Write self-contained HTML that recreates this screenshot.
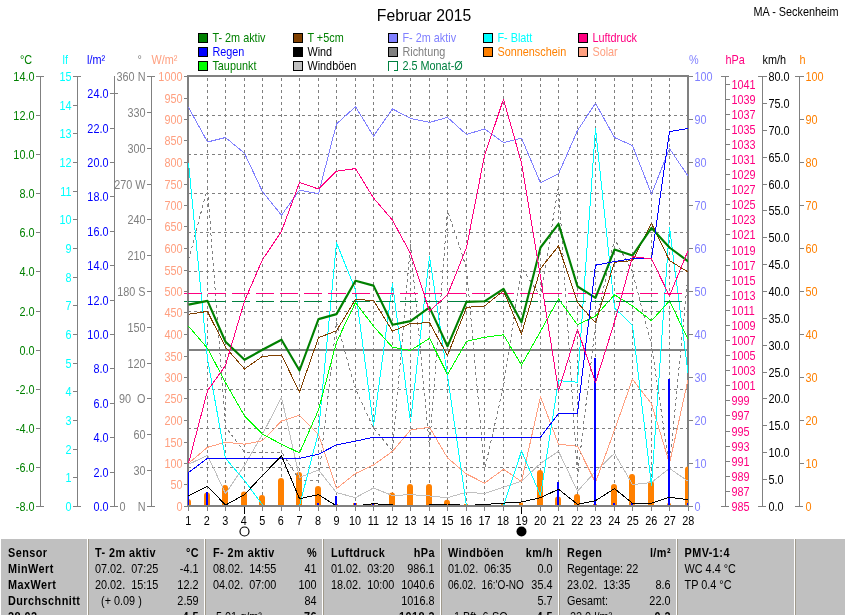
<!DOCTYPE html>
<html><head><meta charset="utf-8"><title>Februar 2015</title>
<style>html,body{margin:0;padding:0;background:#fff}svg{display:block;will-change:transform}text{font-family:"Liberation Sans", sans-serif;font-size:12px}</style>
</head><body>
<svg width="845" height="615" viewBox="0 0 845 615">
<rect x="0" y="0" width="845" height="615" fill="#fff"/>
<text transform="translate(424.00 21.00) scale(0.925 1)" fill="#000" text-anchor="middle" style="font-size:17px">Februar 2015</text>
<text transform="translate(838.50 16.00) scale(0.905 1)" fill="#000" text-anchor="end">MA - Seckenheim</text>
<rect x="198.5" y="33.5" width="9" height="9" fill="#008000" stroke="#000" stroke-width="1" shape-rendering="crispEdges"/>
<text transform="translate(212.40 42.00) scale(0.905 1)" fill="#008000">T- 2m aktiv</text>
<rect x="198.5" y="47.5" width="9" height="9" fill="#0000ff" stroke="#000" stroke-width="1" shape-rendering="crispEdges"/>
<text transform="translate(212.40 56.00) scale(0.905 1)" fill="#0000ff">Regen</text>
<rect x="198.5" y="61.5" width="9" height="9" fill="#00ff00" stroke="#000" stroke-width="1" shape-rendering="crispEdges"/>
<text transform="translate(212.40 70.00) scale(0.905 1)" fill="#008000">Taupunkt</text>
<rect x="293.5" y="33.5" width="9" height="9" fill="#804000" stroke="#000" stroke-width="1" shape-rendering="crispEdges"/>
<text transform="translate(307.40 42.00) scale(0.905 1)" fill="#008000">T +5cm</text>
<rect x="293.5" y="47.5" width="9" height="9" fill="#000000" stroke="#000" stroke-width="1" shape-rendering="crispEdges"/>
<text transform="translate(307.40 56.00) scale(0.905 1)" fill="#000000">Wind</text>
<rect x="293.5" y="61.5" width="9" height="9" fill="#c0c0c0" stroke="#000" stroke-width="1" shape-rendering="crispEdges"/>
<text transform="translate(307.40 70.00) scale(0.905 1)" fill="#000000">Windböen</text>
<rect x="388.5" y="33.5" width="9" height="9" fill="#8080ff" stroke="#000" stroke-width="1" shape-rendering="crispEdges"/>
<text transform="translate(402.40 42.00) scale(0.905 1)" fill="#8080ff">F- 2m aktiv</text>
<rect x="388.5" y="47.5" width="9" height="9" fill="#808080" stroke="#000" stroke-width="1" shape-rendering="crispEdges"/>
<text transform="translate(402.40 56.00) scale(0.905 1)" fill="#808080">Richtung</text>
<path d="M388.5 71.0V61.5H397.5V70.5H394.0" fill="none" stroke="#008040" stroke-width="1" shape-rendering="crispEdges"/>
<text transform="translate(402.40 70.00) scale(0.905 1)" fill="#008040">2.5 Monat-Ø</text>
<rect x="483.5" y="33.5" width="9" height="9" fill="#00ffff" stroke="#000" stroke-width="1" shape-rendering="crispEdges"/>
<text transform="translate(497.40 42.00) scale(0.905 1)" fill="#00ffff">F- Blatt</text>
<rect x="483.5" y="47.5" width="9" height="9" fill="#ff8000" stroke="#000" stroke-width="1" shape-rendering="crispEdges"/>
<text transform="translate(497.40 56.00) scale(0.905 1)" fill="#ff8000">Sonnenschein</text>
<rect x="578.5" y="33.5" width="9" height="9" fill="#ff0080" stroke="#000" stroke-width="1" shape-rendering="crispEdges"/>
<text transform="translate(592.40 42.00) scale(0.905 1)" fill="#ff0080">Luftdruck</text>
<rect x="578.5" y="47.5" width="9" height="9" fill="#ffa080" stroke="#000" stroke-width="1" shape-rendering="crispEdges"/>
<text transform="translate(592.40 56.00) scale(0.905 1)" fill="#ffa080">Solar</text>
<defs><clipPath id="pc"><rect x="188" y="70" width="500" height="437"/></clipPath></defs>
<g stroke="#808080" stroke-width="1" stroke-dasharray="3 3" shape-rendering="crispEdges" fill="none">
<line x1="207.5" y1="78" x2="207.5" y2="505"/>
<line x1="225.5" y1="78" x2="225.5" y2="505"/>
<line x1="244.5" y1="78" x2="244.5" y2="505"/>
<line x1="262.5" y1="78" x2="262.5" y2="505"/>
<line x1="281.5" y1="78" x2="281.5" y2="505"/>
<line x1="299.5" y1="78" x2="299.5" y2="505"/>
<line x1="318.5" y1="78" x2="318.5" y2="505"/>
<line x1="336.5" y1="78" x2="336.5" y2="505"/>
<line x1="355.5" y1="78" x2="355.5" y2="505"/>
<line x1="373.5" y1="78" x2="373.5" y2="505"/>
<line x1="392.5" y1="78" x2="392.5" y2="505"/>
<line x1="410.5" y1="78" x2="410.5" y2="505"/>
<line x1="429.5" y1="78" x2="429.5" y2="505"/>
<line x1="447.5" y1="78" x2="447.5" y2="505"/>
<line x1="466.5" y1="78" x2="466.5" y2="505"/>
<line x1="484.5" y1="78" x2="484.5" y2="505"/>
<line x1="503.5" y1="78" x2="503.5" y2="505"/>
<line x1="521.5" y1="78" x2="521.5" y2="505"/>
<line x1="540.5" y1="78" x2="540.5" y2="505"/>
<line x1="558.5" y1="78" x2="558.5" y2="505"/>
<line x1="577.5" y1="78" x2="577.5" y2="505"/>
<line x1="595.5" y1="78" x2="595.5" y2="505"/>
<line x1="614.5" y1="78" x2="614.5" y2="505"/>
<line x1="632.5" y1="78" x2="632.5" y2="505"/>
<line x1="651.5" y1="78" x2="651.5" y2="505"/>
<line x1="669.5" y1="78" x2="669.5" y2="505"/>
<line x1="188" y1="115.5" x2="687" y2="115.5"/>
<line x1="188" y1="154.5" x2="687" y2="154.5"/>
<line x1="188" y1="193.5" x2="687" y2="193.5"/>
<line x1="188" y1="232.5" x2="687" y2="232.5"/>
<line x1="188" y1="271.5" x2="687" y2="271.5"/>
<line x1="188" y1="311.5" x2="687" y2="311.5"/>
<line x1="188" y1="350.5" x2="687" y2="350.5"/>
<line x1="188" y1="389.5" x2="687" y2="389.5"/>
<line x1="188" y1="428.5" x2="687" y2="428.5"/>
<line x1="188" y1="467.5" x2="687" y2="467.5"/>
</g>
<rect x="188" y="76" width="500" height="430" fill="none" stroke="#808080" stroke-width="2" shape-rendering="crispEdges"/>
<g clip-path="url(#pc)">
<g stroke="#ff8000" stroke-width="6" stroke-linecap="round" fill="none">
<line x1="188.0" y1="509.0" x2="188.0" y2="502.0"/>
<line x1="207.0" y1="509.0" x2="207.0" y2="495.5"/>
<line x1="225.0" y1="509.0" x2="225.0" y2="488.0"/>
<line x1="244.0" y1="509.0" x2="244.0" y2="494.5"/>
<line x1="262.0" y1="509.0" x2="262.0" y2="498.0"/>
<line x1="281.0" y1="509.0" x2="281.0" y2="481.0"/>
<line x1="299.0" y1="509.0" x2="299.0" y2="475.0"/>
<line x1="318.0" y1="509.0" x2="318.0" y2="489.0"/>
<rect x="334.0" y="504.0" width="4" height="2.0" fill="#ff8000" stroke="none"/>
<rect x="353.0" y="503.0" width="4" height="3.0" fill="#ff8000" stroke="none"/>
<rect x="371.0" y="504.0" width="4" height="2.0" fill="#ff8000" stroke="none"/>
<line x1="392.0" y1="509.0" x2="392.0" y2="495.6"/>
<line x1="410.0" y1="509.0" x2="410.0" y2="487.0"/>
<line x1="429.0" y1="509.0" x2="429.0" y2="487.0"/>
<line x1="447.0" y1="509.0" x2="447.0" y2="502.7"/>
<rect x="464.0" y="504.0" width="4" height="2.0" fill="#ff8000" stroke="none"/>
<rect x="482.0" y="504.0" width="4" height="2.0" fill="#ff8000" stroke="none"/>
<rect x="501.0" y="504.0" width="4" height="2.0" fill="#ff8000" stroke="none"/>
<rect x="519.0" y="502.6" width="4" height="3.4" fill="#ff8000" stroke="none"/>
<line x1="540.0" y1="509.0" x2="540.0" y2="473.0"/>
<line x1="558.0" y1="509.0" x2="558.0" y2="499.5"/>
<line x1="577.0" y1="509.0" x2="577.0" y2="497.0"/>
<rect x="593.0" y="504.0" width="4" height="2.0" fill="#ff8000" stroke="none"/>
<line x1="614.0" y1="509.0" x2="614.0" y2="487.0"/>
<line x1="632.0" y1="509.0" x2="632.0" y2="477.0"/>
<line x1="651.0" y1="509.0" x2="651.0" y2="484.0"/>
<rect x="667.0" y="503.5" width="4" height="2.5" fill="#ff8000" stroke="none"/>
<line x1="688.0" y1="509.0" x2="688.0" y2="469.4"/>
</g>
<line x1="188" y1="350" x2="688" y2="350" stroke="#808080" stroke-width="2" shape-rendering="crispEdges"/>
<polyline points="188.5,260.0 207.5,188.0 225.5,427.0 244.5,452.0 262.5,452.0 281.5,452.0 299.5,480.0 318.5,480.0 336.5,322.0 355.5,389.0 373.5,428.0 392.5,451.0 410.5,245.0 429.5,447.0 447.5,210.5 466.5,268.0 484.5,470.0 503.5,386.0 521.5,268.0 540.5,296.0 558.5,186.0 577.5,476.0 595.5,325.0 614.5,239.0 632.5,272.0 651.5,345.0 669.5,467.0 688.5,270.0" fill="none" stroke="#808080" stroke-width="1" stroke-linejoin="round" stroke-dasharray="3 3" shape-rendering="crispEdges"/>
<polyline points="188.5,464.4 207.5,455.3 225.5,493.6 244.5,465.4 262.5,434.2 281.5,397.3 299.5,477.5 318.5,470.0 336.5,492.6 355.5,497.7 373.5,488.0 392.5,495.6 410.5,494.6 429.5,496.0 447.5,497.7 466.5,492.2 484.5,493.6 503.5,487.2 521.5,481.1 540.5,463.4 558.5,451.3 577.5,491.2 595.5,471.5 614.5,453.3 632.5,484.6 651.5,482.5 669.5,468.4 688.5,481.5" fill="none" stroke="#c0c0c0" stroke-width="1" stroke-linejoin="round" shape-rendering="crispEdges"/>
<polyline points="188.5,463.4 207.5,447.3 225.5,442.2 244.5,444.2 262.5,440.8 281.5,421.0 299.5,415.3 318.5,434.2 336.5,488.6 355.5,473.5 373.5,465.0 392.5,451.3 410.5,430.1 429.5,427.1 447.5,457.9 466.5,474.0 484.5,483.1 503.5,469.4 521.5,481.5 540.5,396.7 558.5,444.2 577.5,446.3 595.5,482.5 614.5,430.0 632.5,379.2 651.5,403.8 669.5,463.4 688.5,377.6" fill="none" stroke="#ffa080" stroke-width="1" stroke-linejoin="round" shape-rendering="crispEdges"/>
<polyline points="188.5,107.3 207.5,142.0 225.5,137.5 244.5,153.3 262.5,191.7 281.5,215.2 299.5,190.3 318.5,193.6 336.5,124.0 355.5,106.7 373.5,136.1 392.5,108.9 410.5,118.4 429.5,122.4 447.5,117.4 466.5,134.5 484.5,128.9 503.5,142.6 521.5,138.1 540.5,182.9 558.5,173.8 577.5,130.5 595.5,103.3 614.5,137.5 632.5,145.6 651.5,194.0 669.5,148.6 688.5,176.8" fill="none" stroke="#8080ff" stroke-width="1" stroke-linejoin="round" shape-rendering="crispEdges"/>
<polyline points="188.5,162.7 207.5,359.0 225.5,458.3 244.5,480.5 262.5,505.0 281.5,506.0 299.5,506.0 318.5,432.0 336.5,242.8 355.5,290.0 373.5,426.0 392.5,283.7 410.5,422.0 429.5,256.5 447.5,376.0 466.5,506.0 484.5,506.0 503.5,506.0 521.5,450.9 540.5,495.6 558.5,380.6 577.5,382.2 595.5,128.5 614.5,308.0 632.5,325.2 651.5,485.6 669.5,227.3 688.5,376.6" fill="none" stroke="#00ffff" stroke-width="1" stroke-linejoin="round" shape-rendering="crispEdges"/>
<polyline points="188.5,326.2 207.5,348.3 225.5,382.6 244.5,415.8 262.5,434.2 281.5,444.2 299.5,452.9 318.5,410.0 336.5,342.0 355.5,302.5 373.5,326.2 392.5,347.3 410.5,350.4 429.5,338.3 447.5,374.6 466.5,341.3 484.5,337.3 503.5,334.8 521.5,365.0 540.5,331.3 558.5,298.9 577.5,324.8 595.5,316.1 614.5,294.8 632.5,306.0 651.5,320.7 669.5,300.9 688.5,340.3" fill="none" stroke="#00ff00" stroke-width="1" stroke-linejoin="round" shape-rendering="crispEdges"/>
<line x1="184" y1="293.5" x2="688" y2="293.5" stroke="#ff0080" stroke-width="1" stroke-dasharray="18 6" shape-rendering="crispEdges"/>
<line x1="184" y1="301.5" x2="688" y2="301.5" stroke="#008040" stroke-width="1" stroke-dasharray="18 6" shape-rendering="crispEdges"/>
<polyline points="188.5,314.3 207.5,311.4 225.5,347.3 244.5,369.0 262.5,356.4 281.5,355.0 299.5,392.0 318.5,337.7 336.5,330.8 355.5,299.5 373.5,300.5 392.5,331.2 410.5,323.5 429.5,322.7 447.5,355.4 466.5,307.3 484.5,306.0 503.5,290.8 521.5,334.0 540.5,268.6 558.5,246.0 577.5,302.6 595.5,322.8 614.5,262.2 632.5,260.6 651.5,223.3 669.5,260.6 688.5,272.3" fill="none" stroke="#804000" stroke-width="1" stroke-linejoin="round" shape-rendering="crispEdges"/>
<polyline points="188.5,304.6 207.5,300.9 225.5,341.7 244.5,359.8 262.5,349.8 281.5,339.7 299.5,370.5 318.5,319.1 336.5,314.1 355.5,280.7 373.5,285.6 392.5,324.8 410.5,321.1 429.5,307.4 447.5,346.3 466.5,301.9 484.5,301.3 503.5,288.8 521.5,322.3 540.5,247.5 558.5,223.9 577.5,286.5 595.5,297.8 614.5,249.5 632.5,255.5 651.5,227.9 669.5,247.5 688.5,261.6" fill="none" stroke="#008000" stroke-width="2.15" stroke-linejoin="round" />
<polyline points="188.5,506 188.5,472.5 207.5,458.3 225.5,458.3 244.5,458.3 262.5,458.3 281.5,458.3 299.5,458.3 318.5,454.3 336.5,444.8 355.5,441.2 373.5,437.2 392.5,437.2 410.5,437.2 429.5,437.2 447.5,437.2 466.5,437.2 484.5,437.2 503.5,437.2 521.5,437.2 540.5,437.2 558.5,413.5 577.5,413.5 595.5,265.2 614.5,261.6 632.5,258.5 651.5,258.5 669.5,131.5 688.5,128.5" fill="none" stroke="#0000ff" stroke-width="1" shape-rendering="crispEdges"/>
<rect x="187" y="472.5" width="2" height="33.5" fill="#0000ff" shape-rendering="crispEdges"/>
<rect x="206" y="491.6" width="2" height="14.4" fill="#0000ff" shape-rendering="crispEdges"/>
<rect x="317" y="503.0" width="2" height="3.0" fill="#0000ff" shape-rendering="crispEdges"/>
<rect x="335" y="495.6" width="2" height="10.4" fill="#0000ff" shape-rendering="crispEdges"/>
<rect x="354" y="503.0" width="2" height="3.0" fill="#0000ff" shape-rendering="crispEdges"/>
<rect x="372" y="503.0" width="2" height="3.0" fill="#0000ff" shape-rendering="crispEdges"/>
<rect x="557" y="481.5" width="2" height="24.5" fill="#0000ff" shape-rendering="crispEdges"/>
<rect x="594" y="358.4" width="2" height="147.6" fill="#0000ff" shape-rendering="crispEdges"/>
<rect x="613" y="503.0" width="2" height="3.0" fill="#0000ff" shape-rendering="crispEdges"/>
<rect x="631" y="503.0" width="2" height="3.0" fill="#0000ff" shape-rendering="crispEdges"/>
<rect x="668" y="379.2" width="2" height="126.8" fill="#0000ff" shape-rendering="crispEdges"/>
<rect x="687" y="503.0" width="2" height="3.0" fill="#0000ff" shape-rendering="crispEdges"/>
<polyline points="188.5,463.4 207.5,390.7 225.5,365.5 244.5,301.0 262.5,259.6 281.5,231.3 299.5,182.5 318.5,189.0 336.5,171.2 355.5,168.6 373.5,198.0 392.5,220.2 410.5,253.5 429.5,311.0 447.5,294.8 466.5,247.5 484.5,155.7 503.5,99.2 521.5,163.0 540.5,277.0 558.5,390.7 577.5,329.2 595.5,382.6 614.5,322.0 632.5,256.5 651.5,259.0 669.5,295.8 688.5,249.5" fill="none" stroke="#ff0080" stroke-width="1" stroke-linejoin="round" shape-rendering="crispEdges"/>
<polyline points="188.5,495.6 207.5,486.2 225.5,505.1 244.5,494.6 262.5,475.4 281.5,455.9 299.5,498.7 318.5,494.6 336.5,506.0 355.5,506.0 373.5,503.7 392.5,505.0 410.5,505.0 429.5,505.0 447.5,504.0 466.5,505.5 484.5,504.5 503.5,503.1 521.5,502.0 540.5,497.7 558.5,489.2 577.5,504.3 595.5,500.7 614.5,488.6 632.5,503.3 651.5,503.3 669.5,497.3 688.5,499.7" fill="none" stroke="#000000" stroke-width="1" stroke-linejoin="round" shape-rendering="crispEdges"/>
</g>
<rect x="187" y="505" width="502" height="2" fill="#808080"/><rect x="688" y="75" width="1" height="432" fill="#808080"/><rect x="187" y="75" width="502" height="2" fill="#808080"/>
<line x1="184" y1="293.5" x2="187" y2="293.5" stroke="#ff0080" stroke-width="1" shape-rendering="crispEdges"/>
<line x1="184" y1="301.5" x2="187" y2="301.5" stroke="#008040" stroke-width="1" shape-rendering="crispEdges"/>
<g stroke="#808080" stroke-width="1" shape-rendering="crispEdges"><line x1="40.5" y1="76" x2="40.5" y2="507"/><line x1="36" y1="76.5" x2="44" y2="76.5"/><line x1="36" y1="115.5" x2="40" y2="115.5"/><line x1="36" y1="154.5" x2="40" y2="154.5"/><line x1="36" y1="193.5" x2="40" y2="193.5"/><line x1="36" y1="232.5" x2="40" y2="232.5"/><line x1="36" y1="271.5" x2="40" y2="271.5"/><line x1="36" y1="311.5" x2="40" y2="311.5"/><line x1="36" y1="350.5" x2="40" y2="350.5"/><line x1="36" y1="389.5" x2="40" y2="389.5"/><line x1="36" y1="428.5" x2="40" y2="428.5"/><line x1="36" y1="467.5" x2="40" y2="467.5"/><line x1="36" y1="506.5" x2="44" y2="506.5"/></g>
<text transform="translate(34.50 81.00) scale(0.905 1)" fill="#008000" text-anchor="end">14.0</text>
<text transform="translate(34.50 120.00) scale(0.905 1)" fill="#008000" text-anchor="end">12.0</text>
<text transform="translate(34.50 159.00) scale(0.905 1)" fill="#008000" text-anchor="end">10.0</text>
<text transform="translate(34.50 198.00) scale(0.905 1)" fill="#008000" text-anchor="end">8.0</text>
<text transform="translate(34.50 237.00) scale(0.905 1)" fill="#008000" text-anchor="end">6.0</text>
<text transform="translate(34.50 276.00) scale(0.905 1)" fill="#008000" text-anchor="end">4.0</text>
<text transform="translate(34.50 316.00) scale(0.905 1)" fill="#008000" text-anchor="end">2.0</text>
<text transform="translate(34.50 355.00) scale(0.905 1)" fill="#008000" text-anchor="end">0.0</text>
<text transform="translate(34.50 394.00) scale(0.905 1)" fill="#008000" text-anchor="end">-2.0</text>
<text transform="translate(34.50 433.00) scale(0.905 1)" fill="#008000" text-anchor="end">-4.0</text>
<text transform="translate(34.50 472.00) scale(0.905 1)" fill="#008000" text-anchor="end">-6.0</text>
<text transform="translate(34.50 511.00) scale(0.905 1)" fill="#008000" text-anchor="end">-8.0</text>
<text transform="translate(20.00 64.40) scale(0.905 1)" fill="#008000">°C</text>
<g stroke="#808080" stroke-width="1" shape-rendering="crispEdges"><line x1="77.5" y1="76" x2="77.5" y2="507"/><line x1="73" y1="76.5" x2="81" y2="76.5"/><line x1="73" y1="105.5" x2="77" y2="105.5"/><line x1="73" y1="133.5" x2="77" y2="133.5"/><line x1="73" y1="162.5" x2="77" y2="162.5"/><line x1="73" y1="191.5" x2="77" y2="191.5"/><line x1="73" y1="219.5" x2="77" y2="219.5"/><line x1="73" y1="248.5" x2="77" y2="248.5"/><line x1="73" y1="277.5" x2="77" y2="277.5"/><line x1="73" y1="305.5" x2="77" y2="305.5"/><line x1="73" y1="334.5" x2="77" y2="334.5"/><line x1="73" y1="363.5" x2="77" y2="363.5"/><line x1="73" y1="391.5" x2="77" y2="391.5"/><line x1="73" y1="420.5" x2="77" y2="420.5"/><line x1="73" y1="449.5" x2="77" y2="449.5"/><line x1="73" y1="477.5" x2="77" y2="477.5"/><line x1="73" y1="506.5" x2="81" y2="506.5"/></g>
<text transform="translate(71.50 81.00) scale(0.905 1)" fill="#00ffff" text-anchor="end">15</text>
<text transform="translate(71.50 110.00) scale(0.905 1)" fill="#00ffff" text-anchor="end">14</text>
<text transform="translate(71.50 138.00) scale(0.905 1)" fill="#00ffff" text-anchor="end">13</text>
<text transform="translate(71.50 167.00) scale(0.905 1)" fill="#00ffff" text-anchor="end">12</text>
<text transform="translate(71.50 196.00) scale(0.905 1)" fill="#00ffff" text-anchor="end">11</text>
<text transform="translate(71.50 224.00) scale(0.905 1)" fill="#00ffff" text-anchor="end">10</text>
<text transform="translate(71.50 253.00) scale(0.905 1)" fill="#00ffff" text-anchor="end">9</text>
<text transform="translate(71.50 282.00) scale(0.905 1)" fill="#00ffff" text-anchor="end">8</text>
<text transform="translate(71.50 310.00) scale(0.905 1)" fill="#00ffff" text-anchor="end">7</text>
<text transform="translate(71.50 339.00) scale(0.905 1)" fill="#00ffff" text-anchor="end">6</text>
<text transform="translate(71.50 368.00) scale(0.905 1)" fill="#00ffff" text-anchor="end">5</text>
<text transform="translate(71.50 396.00) scale(0.905 1)" fill="#00ffff" text-anchor="end">4</text>
<text transform="translate(71.50 425.00) scale(0.905 1)" fill="#00ffff" text-anchor="end">3</text>
<text transform="translate(71.50 454.00) scale(0.905 1)" fill="#00ffff" text-anchor="end">2</text>
<text transform="translate(71.50 482.00) scale(0.905 1)" fill="#00ffff" text-anchor="end">1</text>
<text transform="translate(71.50 511.00) scale(0.905 1)" fill="#00ffff" text-anchor="end">0</text>
<text transform="translate(62.50 64.40) scale(0.905 1)" fill="#00ffff">lf</text>
<g stroke="#808080" stroke-width="1" shape-rendering="crispEdges"><line x1="114.5" y1="76" x2="114.5" y2="507"/><line x1="110" y1="93.5" x2="118" y2="93.5"/><line x1="110" y1="128.5" x2="114" y2="128.5"/><line x1="110" y1="162.5" x2="114" y2="162.5"/><line x1="110" y1="196.5" x2="114" y2="196.5"/><line x1="110" y1="231.5" x2="114" y2="231.5"/><line x1="110" y1="265.5" x2="114" y2="265.5"/><line x1="110" y1="300.5" x2="114" y2="300.5"/><line x1="110" y1="334.5" x2="114" y2="334.5"/><line x1="110" y1="368.5" x2="114" y2="368.5"/><line x1="110" y1="403.5" x2="114" y2="403.5"/><line x1="110" y1="437.5" x2="114" y2="437.5"/><line x1="110" y1="472.5" x2="114" y2="472.5"/><line x1="110" y1="506.5" x2="118" y2="506.5"/></g>
<text transform="translate(108.50 98.00) scale(0.905 1)" fill="#0000ff" text-anchor="end">24.0</text>
<text transform="translate(108.50 133.00) scale(0.905 1)" fill="#0000ff" text-anchor="end">22.0</text>
<text transform="translate(108.50 167.00) scale(0.905 1)" fill="#0000ff" text-anchor="end">20.0</text>
<text transform="translate(108.50 201.00) scale(0.905 1)" fill="#0000ff" text-anchor="end">18.0</text>
<text transform="translate(108.50 236.00) scale(0.905 1)" fill="#0000ff" text-anchor="end">16.0</text>
<text transform="translate(108.50 270.00) scale(0.905 1)" fill="#0000ff" text-anchor="end">14.0</text>
<text transform="translate(108.50 305.00) scale(0.905 1)" fill="#0000ff" text-anchor="end">12.0</text>
<text transform="translate(108.50 339.00) scale(0.905 1)" fill="#0000ff" text-anchor="end">10.0</text>
<text transform="translate(108.50 373.00) scale(0.905 1)" fill="#0000ff" text-anchor="end">8.0</text>
<text transform="translate(108.50 408.00) scale(0.905 1)" fill="#0000ff" text-anchor="end">6.0</text>
<text transform="translate(108.50 442.00) scale(0.905 1)" fill="#0000ff" text-anchor="end">4.0</text>
<text transform="translate(108.50 477.00) scale(0.905 1)" fill="#0000ff" text-anchor="end">2.0</text>
<text transform="translate(108.50 511.00) scale(0.905 1)" fill="#0000ff" text-anchor="end">0.0</text>
<text transform="translate(87.00 64.40) scale(0.905 1)" fill="#0000ff">l/m²</text>
<g stroke="#808080" stroke-width="1" shape-rendering="crispEdges"><line x1="151.5" y1="76" x2="151.5" y2="507"/><line x1="147" y1="76.5" x2="155" y2="76.5"/><line x1="147" y1="112.5" x2="151" y2="112.5"/><line x1="147" y1="148.5" x2="151" y2="148.5"/><line x1="147" y1="184.5" x2="151" y2="184.5"/><line x1="147" y1="219.5" x2="151" y2="219.5"/><line x1="147" y1="255.5" x2="151" y2="255.5"/><line x1="147" y1="291.5" x2="151" y2="291.5"/><line x1="147" y1="327.5" x2="151" y2="327.5"/><line x1="147" y1="363.5" x2="151" y2="363.5"/><line x1="147" y1="398.5" x2="151" y2="398.5"/><line x1="147" y1="434.5" x2="151" y2="434.5"/><line x1="147" y1="470.5" x2="151" y2="470.5"/><line x1="147" y1="506.5" x2="155" y2="506.5"/></g>
<text transform="translate(145.50 81.00) scale(0.905 1)" fill="#808080" text-anchor="end">360 N</text>
<text transform="translate(145.50 117.00) scale(0.905 1)" fill="#808080" text-anchor="end">330</text>
<text transform="translate(145.50 153.00) scale(0.905 1)" fill="#808080" text-anchor="end">300</text>
<text transform="translate(145.50 189.00) scale(0.905 1)" fill="#808080" text-anchor="end">270 W</text>
<text transform="translate(145.50 224.00) scale(0.905 1)" fill="#808080" text-anchor="end">240</text>
<text transform="translate(145.50 260.00) scale(0.905 1)" fill="#808080" text-anchor="end">210</text>
<text transform="translate(145.50 296.00) scale(0.905 1)" fill="#808080" text-anchor="end">180 S</text>
<text transform="translate(145.50 332.00) scale(0.905 1)" fill="#808080" text-anchor="end">150</text>
<text transform="translate(145.50 368.00) scale(0.905 1)" fill="#808080" text-anchor="end">120</text>
<text transform="translate(145.50 403.00) scale(0.905 1)" fill="#808080" text-anchor="end">90&#160;&#160;O</text>
<text transform="translate(145.50 439.00) scale(0.905 1)" fill="#808080" text-anchor="end">60</text>
<text transform="translate(145.50 475.00) scale(0.905 1)" fill="#808080" text-anchor="end">30</text>
<text transform="translate(145.50 511.00) scale(0.905 1)" fill="#808080" text-anchor="end">0&#160;&#160;&#160;&#160;N</text>
<text transform="translate(137.50 64.40) scale(0.905 1)" fill="#808080">°</text>
<g stroke="#808080" stroke-width="1" shape-rendering="crispEdges"><line x1="184" y1="76.5" x2="188" y2="76.5"/><line x1="184" y1="98.5" x2="188" y2="98.5"/><line x1="184" y1="119.5" x2="188" y2="119.5"/><line x1="184" y1="140.5" x2="188" y2="140.5"/><line x1="184" y1="162.5" x2="188" y2="162.5"/><line x1="184" y1="184.5" x2="188" y2="184.5"/><line x1="184" y1="205.5" x2="188" y2="205.5"/><line x1="184" y1="226.5" x2="188" y2="226.5"/><line x1="184" y1="248.5" x2="188" y2="248.5"/><line x1="184" y1="270.5" x2="188" y2="270.5"/><line x1="184" y1="291.5" x2="188" y2="291.5"/><line x1="184" y1="312.5" x2="188" y2="312.5"/><line x1="184" y1="334.5" x2="188" y2="334.5"/><line x1="184" y1="356.5" x2="188" y2="356.5"/><line x1="184" y1="377.5" x2="188" y2="377.5"/><line x1="184" y1="398.5" x2="188" y2="398.5"/><line x1="184" y1="420.5" x2="188" y2="420.5"/><line x1="184" y1="442.5" x2="188" y2="442.5"/><line x1="184" y1="463.5" x2="188" y2="463.5"/><line x1="184" y1="484.5" x2="188" y2="484.5"/><line x1="184" y1="506.5" x2="188" y2="506.5"/></g>
<text transform="translate(182.50 81.00) scale(0.905 1)" fill="#ffa080" text-anchor="end">1000</text>
<text transform="translate(182.50 103.00) scale(0.905 1)" fill="#ffa080" text-anchor="end">950</text>
<text transform="translate(182.50 124.00) scale(0.905 1)" fill="#ffa080" text-anchor="end">900</text>
<text transform="translate(182.50 145.00) scale(0.905 1)" fill="#ffa080" text-anchor="end">850</text>
<text transform="translate(182.50 167.00) scale(0.905 1)" fill="#ffa080" text-anchor="end">800</text>
<text transform="translate(182.50 189.00) scale(0.905 1)" fill="#ffa080" text-anchor="end">750</text>
<text transform="translate(182.50 210.00) scale(0.905 1)" fill="#ffa080" text-anchor="end">700</text>
<text transform="translate(182.50 231.00) scale(0.905 1)" fill="#ffa080" text-anchor="end">650</text>
<text transform="translate(182.50 253.00) scale(0.905 1)" fill="#ffa080" text-anchor="end">600</text>
<text transform="translate(182.50 275.00) scale(0.905 1)" fill="#ffa080" text-anchor="end">550</text>
<text transform="translate(182.50 296.00) scale(0.905 1)" fill="#ffa080" text-anchor="end">500</text>
<text transform="translate(182.50 317.00) scale(0.905 1)" fill="#ffa080" text-anchor="end">450</text>
<text transform="translate(182.50 339.00) scale(0.905 1)" fill="#ffa080" text-anchor="end">400</text>
<text transform="translate(182.50 361.00) scale(0.905 1)" fill="#ffa080" text-anchor="end">350</text>
<text transform="translate(182.50 382.00) scale(0.905 1)" fill="#ffa080" text-anchor="end">300</text>
<text transform="translate(182.50 403.00) scale(0.905 1)" fill="#ffa080" text-anchor="end">250</text>
<text transform="translate(182.50 425.00) scale(0.905 1)" fill="#ffa080" text-anchor="end">200</text>
<text transform="translate(182.50 447.00) scale(0.905 1)" fill="#ffa080" text-anchor="end">150</text>
<text transform="translate(182.50 468.00) scale(0.905 1)" fill="#ffa080" text-anchor="end">100</text>
<text transform="translate(182.50 489.00) scale(0.905 1)" fill="#ffa080" text-anchor="end">50</text>
<text transform="translate(182.50 511.00) scale(0.905 1)" fill="#ffa080" text-anchor="end">0</text>
<text transform="translate(151.50 64.40) scale(0.905 1)" fill="#ffa080">W/m²</text>
<g stroke="#808080" stroke-width="1" shape-rendering="crispEdges"><line x1="689" y1="76.5" x2="693" y2="76.5"/><line x1="689" y1="119.5" x2="693" y2="119.5"/><line x1="689" y1="162.5" x2="693" y2="162.5"/><line x1="689" y1="205.5" x2="693" y2="205.5"/><line x1="689" y1="248.5" x2="693" y2="248.5"/><line x1="689" y1="291.5" x2="693" y2="291.5"/><line x1="689" y1="334.5" x2="693" y2="334.5"/><line x1="689" y1="377.5" x2="693" y2="377.5"/><line x1="689" y1="420.5" x2="693" y2="420.5"/><line x1="689" y1="463.5" x2="693" y2="463.5"/><line x1="689" y1="506.5" x2="693" y2="506.5"/></g>
<text transform="translate(694.50 81.00) scale(0.905 1)" fill="#8080ff">100</text>
<text transform="translate(694.50 124.00) scale(0.905 1)" fill="#8080ff">90</text>
<text transform="translate(694.50 167.00) scale(0.905 1)" fill="#8080ff">80</text>
<text transform="translate(694.50 210.00) scale(0.905 1)" fill="#8080ff">70</text>
<text transform="translate(694.50 253.00) scale(0.905 1)" fill="#8080ff">60</text>
<text transform="translate(694.50 296.00) scale(0.905 1)" fill="#8080ff">50</text>
<text transform="translate(694.50 339.00) scale(0.905 1)" fill="#8080ff">40</text>
<text transform="translate(694.50 382.00) scale(0.905 1)" fill="#8080ff">30</text>
<text transform="translate(694.50 425.00) scale(0.905 1)" fill="#8080ff">20</text>
<text transform="translate(694.50 468.00) scale(0.905 1)" fill="#8080ff">10</text>
<text transform="translate(694.50 511.00) scale(0.905 1)" fill="#8080ff">0</text>
<text transform="translate(689.00 64.40) scale(0.905 1)" fill="#8080ff">%</text>
<g stroke="#808080" stroke-width="1" shape-rendering="crispEdges"><line x1="725.5" y1="76" x2="725.5" y2="507"/><line x1="721" y1="76.5" x2="729" y2="76.5"/><line x1="721" y1="506.5" x2="729" y2="506.5"/><line x1="726" y1="84.5" x2="730" y2="84.5"/><line x1="726" y1="99.5" x2="730" y2="99.5"/><line x1="726" y1="114.5" x2="730" y2="114.5"/><line x1="726" y1="129.5" x2="730" y2="129.5"/><line x1="726" y1="144.5" x2="730" y2="144.5"/><line x1="726" y1="159.5" x2="730" y2="159.5"/><line x1="726" y1="174.5" x2="730" y2="174.5"/><line x1="726" y1="189.5" x2="730" y2="189.5"/><line x1="726" y1="204.5" x2="730" y2="204.5"/><line x1="726" y1="219.5" x2="730" y2="219.5"/><line x1="726" y1="234.5" x2="730" y2="234.5"/><line x1="726" y1="250.5" x2="730" y2="250.5"/><line x1="726" y1="265.5" x2="730" y2="265.5"/><line x1="726" y1="280.5" x2="730" y2="280.5"/><line x1="726" y1="295.5" x2="730" y2="295.5"/><line x1="726" y1="310.5" x2="730" y2="310.5"/><line x1="726" y1="325.5" x2="730" y2="325.5"/><line x1="726" y1="340.5" x2="730" y2="340.5"/><line x1="726" y1="355.5" x2="730" y2="355.5"/><line x1="726" y1="370.5" x2="730" y2="370.5"/><line x1="726" y1="385.5" x2="730" y2="385.5"/><line x1="726" y1="400.5" x2="730" y2="400.5"/><line x1="726" y1="415.5" x2="730" y2="415.5"/><line x1="726" y1="431.5" x2="730" y2="431.5"/><line x1="726" y1="446.5" x2="730" y2="446.5"/><line x1="726" y1="461.5" x2="730" y2="461.5"/><line x1="726" y1="476.5" x2="730" y2="476.5"/><line x1="726" y1="491.5" x2="730" y2="491.5"/></g>
<text transform="translate(731.50 89.00) scale(0.905 1)" fill="#ff0080">1041</text>
<text transform="translate(731.50 104.00) scale(0.905 1)" fill="#ff0080">1039</text>
<text transform="translate(731.50 119.00) scale(0.905 1)" fill="#ff0080">1037</text>
<text transform="translate(731.50 134.00) scale(0.905 1)" fill="#ff0080">1035</text>
<text transform="translate(731.50 149.00) scale(0.905 1)" fill="#ff0080">1033</text>
<text transform="translate(731.50 164.00) scale(0.905 1)" fill="#ff0080">1031</text>
<text transform="translate(731.50 179.00) scale(0.905 1)" fill="#ff0080">1029</text>
<text transform="translate(731.50 194.00) scale(0.905 1)" fill="#ff0080">1027</text>
<text transform="translate(731.50 209.00) scale(0.905 1)" fill="#ff0080">1025</text>
<text transform="translate(731.50 224.00) scale(0.905 1)" fill="#ff0080">1023</text>
<text transform="translate(731.50 239.00) scale(0.905 1)" fill="#ff0080">1021</text>
<text transform="translate(731.50 255.00) scale(0.905 1)" fill="#ff0080">1019</text>
<text transform="translate(731.50 270.00) scale(0.905 1)" fill="#ff0080">1017</text>
<text transform="translate(731.50 285.00) scale(0.905 1)" fill="#ff0080">1015</text>
<text transform="translate(731.50 300.00) scale(0.905 1)" fill="#ff0080">1013</text>
<text transform="translate(731.50 315.00) scale(0.905 1)" fill="#ff0080">1011</text>
<text transform="translate(731.50 330.00) scale(0.905 1)" fill="#ff0080">1009</text>
<text transform="translate(731.50 345.00) scale(0.905 1)" fill="#ff0080">1007</text>
<text transform="translate(731.50 360.00) scale(0.905 1)" fill="#ff0080">1005</text>
<text transform="translate(731.50 375.00) scale(0.905 1)" fill="#ff0080">1003</text>
<text transform="translate(731.50 390.00) scale(0.905 1)" fill="#ff0080">1001</text>
<text transform="translate(731.50 405.00) scale(0.905 1)" fill="#ff0080">999</text>
<text transform="translate(731.50 420.00) scale(0.905 1)" fill="#ff0080">997</text>
<text transform="translate(731.50 436.00) scale(0.905 1)" fill="#ff0080">995</text>
<text transform="translate(731.50 451.00) scale(0.905 1)" fill="#ff0080">993</text>
<text transform="translate(731.50 466.00) scale(0.905 1)" fill="#ff0080">991</text>
<text transform="translate(731.50 481.00) scale(0.905 1)" fill="#ff0080">989</text>
<text transform="translate(731.50 496.00) scale(0.905 1)" fill="#ff0080">987</text>
<text transform="translate(731.50 511.00) scale(0.905 1)" fill="#ff0080">985</text>
<text transform="translate(725.50 64.40) scale(0.905 1)" fill="#ff0080">hPa</text>
<g stroke="#808080" stroke-width="1" shape-rendering="crispEdges"><line x1="762.5" y1="76" x2="762.5" y2="507"/><line x1="758" y1="76.5" x2="766" y2="76.5"/><line x1="758" y1="506.5" x2="766" y2="506.5"/><line x1="763" y1="76.5" x2="767" y2="76.5"/><line x1="763" y1="103.5" x2="767" y2="103.5"/><line x1="763" y1="130.5" x2="767" y2="130.5"/><line x1="763" y1="157.5" x2="767" y2="157.5"/><line x1="763" y1="184.5" x2="767" y2="184.5"/><line x1="763" y1="210.5" x2="767" y2="210.5"/><line x1="763" y1="237.5" x2="767" y2="237.5"/><line x1="763" y1="264.5" x2="767" y2="264.5"/><line x1="763" y1="291.5" x2="767" y2="291.5"/><line x1="763" y1="318.5" x2="767" y2="318.5"/><line x1="763" y1="345.5" x2="767" y2="345.5"/><line x1="763" y1="372.5" x2="767" y2="372.5"/><line x1="763" y1="398.5" x2="767" y2="398.5"/><line x1="763" y1="425.5" x2="767" y2="425.5"/><line x1="763" y1="452.5" x2="767" y2="452.5"/><line x1="763" y1="479.5" x2="767" y2="479.5"/></g>
<text transform="translate(768.50 81.00) scale(0.905 1)" fill="#000000">80.0</text>
<text transform="translate(768.50 108.00) scale(0.905 1)" fill="#000000">75.0</text>
<text transform="translate(768.50 135.00) scale(0.905 1)" fill="#000000">70.0</text>
<text transform="translate(768.50 162.00) scale(0.905 1)" fill="#000000">65.0</text>
<text transform="translate(768.50 189.00) scale(0.905 1)" fill="#000000">60.0</text>
<text transform="translate(768.50 215.00) scale(0.905 1)" fill="#000000">55.0</text>
<text transform="translate(768.50 242.00) scale(0.905 1)" fill="#000000">50.0</text>
<text transform="translate(768.50 269.00) scale(0.905 1)" fill="#000000">45.0</text>
<text transform="translate(768.50 296.00) scale(0.905 1)" fill="#000000">40.0</text>
<text transform="translate(768.50 323.00) scale(0.905 1)" fill="#000000">35.0</text>
<text transform="translate(768.50 350.00) scale(0.905 1)" fill="#000000">30.0</text>
<text transform="translate(768.50 377.00) scale(0.905 1)" fill="#000000">25.0</text>
<text transform="translate(768.50 403.00) scale(0.905 1)" fill="#000000">20.0</text>
<text transform="translate(768.50 430.00) scale(0.905 1)" fill="#000000">15.0</text>
<text transform="translate(768.50 457.00) scale(0.905 1)" fill="#000000">10.0</text>
<text transform="translate(768.50 484.00) scale(0.905 1)" fill="#000000">5.0</text>
<text transform="translate(768.50 511.00) scale(0.905 1)" fill="#000000">0.0</text>
<text transform="translate(762.50 64.40) scale(0.905 1)" fill="#000000">km/h</text>
<g stroke="#808080" stroke-width="1" shape-rendering="crispEdges"><line x1="799.5" y1="76" x2="799.5" y2="507"/><line x1="795" y1="76.5" x2="803" y2="76.5"/><line x1="795" y1="506.5" x2="803" y2="506.5"/><line x1="800" y1="76.5" x2="804" y2="76.5"/><line x1="800" y1="119.5" x2="804" y2="119.5"/><line x1="800" y1="162.5" x2="804" y2="162.5"/><line x1="800" y1="205.5" x2="804" y2="205.5"/><line x1="800" y1="248.5" x2="804" y2="248.5"/><line x1="800" y1="291.5" x2="804" y2="291.5"/><line x1="800" y1="334.5" x2="804" y2="334.5"/><line x1="800" y1="377.5" x2="804" y2="377.5"/><line x1="800" y1="420.5" x2="804" y2="420.5"/><line x1="800" y1="463.5" x2="804" y2="463.5"/></g>
<text transform="translate(805.50 81.00) scale(0.905 1)" fill="#ff8000">100</text>
<text transform="translate(805.50 124.00) scale(0.905 1)" fill="#ff8000">90</text>
<text transform="translate(805.50 167.00) scale(0.905 1)" fill="#ff8000">80</text>
<text transform="translate(805.50 210.00) scale(0.905 1)" fill="#ff8000">70</text>
<text transform="translate(805.50 253.00) scale(0.905 1)" fill="#ff8000">60</text>
<text transform="translate(805.50 296.00) scale(0.905 1)" fill="#ff8000">50</text>
<text transform="translate(805.50 339.00) scale(0.905 1)" fill="#ff8000">40</text>
<text transform="translate(805.50 382.00) scale(0.905 1)" fill="#ff8000">30</text>
<text transform="translate(805.50 425.00) scale(0.905 1)" fill="#ff8000">20</text>
<text transform="translate(805.50 468.00) scale(0.905 1)" fill="#ff8000">10</text>
<text transform="translate(805.50 511.00) scale(0.905 1)" fill="#ff8000">0</text>
<text transform="translate(799.50 64.40) scale(0.905 1)" fill="#ff8000">h</text>
<g stroke="#808080" stroke-width="1" shape-rendering="crispEdges"><line x1="188.5" y1="507" x2="188.5" y2="511"/><line x1="207.5" y1="507" x2="207.5" y2="511"/><line x1="225.5" y1="507" x2="225.5" y2="511"/><line x1="244.5" y1="507" x2="244.5" y2="514" stroke="#000"/><line x1="262.5" y1="507" x2="262.5" y2="511"/><line x1="281.5" y1="507" x2="281.5" y2="511"/><line x1="299.5" y1="507" x2="299.5" y2="511"/><line x1="318.5" y1="507" x2="318.5" y2="511"/><line x1="336.5" y1="507" x2="336.5" y2="511"/><line x1="355.5" y1="507" x2="355.5" y2="511"/><line x1="373.5" y1="507" x2="373.5" y2="511"/><line x1="392.5" y1="507" x2="392.5" y2="511"/><line x1="410.5" y1="507" x2="410.5" y2="511"/><line x1="429.5" y1="507" x2="429.5" y2="511"/><line x1="447.5" y1="507" x2="447.5" y2="511"/><line x1="466.5" y1="507" x2="466.5" y2="511"/><line x1="484.5" y1="507" x2="484.5" y2="511"/><line x1="503.5" y1="507" x2="503.5" y2="511"/><line x1="521.5" y1="507" x2="521.5" y2="514" stroke="#000"/><line x1="540.5" y1="507" x2="540.5" y2="511"/><line x1="558.5" y1="507" x2="558.5" y2="511"/><line x1="577.5" y1="507" x2="577.5" y2="511"/><line x1="595.5" y1="507" x2="595.5" y2="511"/><line x1="614.5" y1="507" x2="614.5" y2="511"/><line x1="632.5" y1="507" x2="632.5" y2="511"/><line x1="651.5" y1="507" x2="651.5" y2="511"/><line x1="669.5" y1="507" x2="669.5" y2="511"/><line x1="688.5" y1="507" x2="688.5" y2="511"/></g>
<text transform="translate(188.30 525.00) scale(0.905 1)" fill="#000" text-anchor="middle">1</text>
<text transform="translate(206.82 525.00) scale(0.905 1)" fill="#000" text-anchor="middle">2</text>
<text transform="translate(225.34 525.00) scale(0.905 1)" fill="#000" text-anchor="middle">3</text>
<text transform="translate(243.86 525.00) scale(0.905 1)" fill="#000" text-anchor="middle">4</text>
<text transform="translate(262.37 525.00) scale(0.905 1)" fill="#000" text-anchor="middle">5</text>
<text transform="translate(280.89 525.00) scale(0.905 1)" fill="#000" text-anchor="middle">6</text>
<text transform="translate(299.41 525.00) scale(0.905 1)" fill="#000" text-anchor="middle">7</text>
<text transform="translate(317.93 525.00) scale(0.905 1)" fill="#000" text-anchor="middle">8</text>
<text transform="translate(336.45 525.00) scale(0.905 1)" fill="#000" text-anchor="middle">9</text>
<text transform="translate(354.97 525.00) scale(0.905 1)" fill="#000" text-anchor="middle">10</text>
<text transform="translate(373.49 525.00) scale(0.905 1)" fill="#000" text-anchor="middle">11</text>
<text transform="translate(392.00 525.00) scale(0.905 1)" fill="#000" text-anchor="middle">12</text>
<text transform="translate(410.52 525.00) scale(0.905 1)" fill="#000" text-anchor="middle">13</text>
<text transform="translate(429.04 525.00) scale(0.905 1)" fill="#000" text-anchor="middle">14</text>
<text transform="translate(447.56 525.00) scale(0.905 1)" fill="#000" text-anchor="middle">15</text>
<text transform="translate(466.08 525.00) scale(0.905 1)" fill="#000" text-anchor="middle">16</text>
<text transform="translate(484.60 525.00) scale(0.905 1)" fill="#000" text-anchor="middle">17</text>
<text transform="translate(503.11 525.00) scale(0.905 1)" fill="#000" text-anchor="middle">18</text>
<text transform="translate(521.63 525.00) scale(0.905 1)" fill="#000" text-anchor="middle">19</text>
<text transform="translate(540.15 525.00) scale(0.905 1)" fill="#000" text-anchor="middle">20</text>
<text transform="translate(558.67 525.00) scale(0.905 1)" fill="#000" text-anchor="middle">21</text>
<text transform="translate(577.19 525.00) scale(0.905 1)" fill="#000" text-anchor="middle">22</text>
<text transform="translate(595.71 525.00) scale(0.905 1)" fill="#000" text-anchor="middle">23</text>
<text transform="translate(614.23 525.00) scale(0.905 1)" fill="#000" text-anchor="middle">24</text>
<text transform="translate(632.74 525.00) scale(0.905 1)" fill="#000" text-anchor="middle">25</text>
<text transform="translate(651.26 525.00) scale(0.905 1)" fill="#000" text-anchor="middle">26</text>
<text transform="translate(669.78 525.00) scale(0.905 1)" fill="#000" text-anchor="middle">27</text>
<text transform="translate(688.30 525.00) scale(0.905 1)" fill="#000" text-anchor="middle">28</text>
<circle cx="244.5" cy="531.5" r="4.5" fill="#fff" stroke="#000" stroke-width="1.2"/>
<circle cx="521.5" cy="531.5" r="5" fill="#000"/>
<rect x="1" y="539" width="844" height="76" fill="#c0c0c0"/>
<rect x="87" y="539" width="1" height="76" fill="#fff"/><rect x="88" y="539" width="1" height="76" fill="#a09a8c"/>
<rect x="204" y="539" width="1" height="76" fill="#fff"/><rect x="205" y="539" width="1" height="76" fill="#a09a8c"/>
<rect x="322" y="539" width="1" height="76" fill="#fff"/><rect x="323" y="539" width="1" height="76" fill="#a09a8c"/>
<rect x="440" y="539" width="1" height="76" fill="#fff"/><rect x="441" y="539" width="1" height="76" fill="#a09a8c"/>
<rect x="558" y="539" width="1" height="76" fill="#fff"/><rect x="559" y="539" width="1" height="76" fill="#a09a8c"/>
<rect x="676" y="539" width="1" height="76" fill="#fff"/><rect x="677" y="539" width="1" height="76" fill="#a09a8c"/>
<rect x="794" y="539" width="1" height="76" fill="#fff"/><rect x="795" y="539" width="1" height="76" fill="#a09a8c"/>
<text transform="translate(8.00 557.00) scale(0.905 1)" fill="#000" font-weight="bold" style="letter-spacing:0.5px">Sensor</text>
<text transform="translate(8.00 573.00) scale(0.905 1)" fill="#000" font-weight="bold" style="letter-spacing:0.5px">MinWert</text>
<text transform="translate(8.00 589.00) scale(0.905 1)" fill="#000" font-weight="bold" style="letter-spacing:0.5px">MaxWert</text>
<text transform="translate(8.00 605.00) scale(0.905 1)" fill="#000" font-weight="bold" style="letter-spacing:0.5px">Durchschnitt</text>
<text transform="translate(8.00 621.00) scale(0.905 1)" fill="#000" font-weight="bold" style="letter-spacing:0.5px">28.02.</text>
<text transform="translate(95.00 557.00) scale(0.905 1)" fill="#000" font-weight="bold" style="letter-spacing:0.5px">T- 2m aktiv</text>
<text transform="translate(199.00 557.00) scale(0.905 1)" fill="#000" text-anchor="end" font-weight="bold" style="letter-spacing:0.5px">°C</text>
<text transform="translate(95.00 573.00) scale(0.905 1)" fill="#000">07.02.&#160;&#160;07:25</text>
<text transform="translate(198.50 573.00) scale(0.905 1)" fill="#000" text-anchor="end">-4.1</text>
<text transform="translate(95.00 589.00) scale(0.905 1)" fill="#000">20.02.&#160;&#160;15:15</text>
<text transform="translate(198.50 589.00) scale(0.905 1)" fill="#000" text-anchor="end">12.2</text>
<text transform="translate(95.00 605.00) scale(0.905 1)" fill="#000">&#160;&#160;(+ 0.09 )</text>
<text transform="translate(198.50 605.00) scale(0.905 1)" fill="#000" text-anchor="end">2.59</text>
<text transform="translate(199.00 621.00) scale(0.905 1)" fill="#000" text-anchor="end" font-weight="bold" style="letter-spacing:0.5px">4.5</text>
<text transform="translate(213.00 557.00) scale(0.905 1)" fill="#000" font-weight="bold" style="letter-spacing:0.5px">F- 2m aktiv</text>
<text transform="translate(317.00 557.00) scale(0.905 1)" fill="#000" text-anchor="end" font-weight="bold" style="letter-spacing:0.5px">%</text>
<text transform="translate(213.00 573.00) scale(0.905 1)" fill="#000">08.02.&#160;&#160;14:55</text>
<text transform="translate(316.50 573.00) scale(0.905 1)" fill="#000" text-anchor="end">41</text>
<text transform="translate(213.00 589.00) scale(0.905 1)" fill="#000">04.02.&#160;&#160;07:00</text>
<text transform="translate(316.50 589.00) scale(0.905 1)" fill="#000" text-anchor="end">100</text>
<text transform="translate(316.50 605.00) scale(0.905 1)" fill="#000" text-anchor="end">84</text>
<text transform="translate(213.00 621.00) scale(0.905 1)" fill="#000">&#160;5.01 g/m³</text>
<text transform="translate(317.00 621.00) scale(0.905 1)" fill="#000" text-anchor="end" font-weight="bold" style="letter-spacing:0.5px">76</text>
<text transform="translate(331.00 557.00) scale(0.905 1)" fill="#000" font-weight="bold" style="letter-spacing:0.5px">Luftdruck</text>
<text transform="translate(435.00 557.00) scale(0.905 1)" fill="#000" text-anchor="end" font-weight="bold" style="letter-spacing:0.5px">hPa</text>
<text transform="translate(331.00 573.00) scale(0.905 1)" fill="#000">01.02.&#160;&#160;03:20</text>
<text transform="translate(434.50 573.00) scale(0.905 1)" fill="#000" text-anchor="end">986.1</text>
<text transform="translate(331.00 589.00) scale(0.905 1)" fill="#000">18.02.&#160;&#160;10:00</text>
<text transform="translate(434.50 589.00) scale(0.905 1)" fill="#000" text-anchor="end">1040.6</text>
<text transform="translate(434.50 605.00) scale(0.905 1)" fill="#000" text-anchor="end">1016.8</text>
<text transform="translate(435.00 621.00) scale(0.905 1)" fill="#000" text-anchor="end" font-weight="bold" style="letter-spacing:0.5px">1018.3</text>
<text transform="translate(448.00 557.00) scale(0.905 1)" fill="#000" font-weight="bold" style="letter-spacing:0.5px">Windböen</text>
<text transform="translate(553.00 557.00) scale(0.905 1)" fill="#000" text-anchor="end" font-weight="bold" style="letter-spacing:0.5px">km/h</text>
<text transform="translate(448.00 573.00) scale(0.905 1)" fill="#000">01.02.&#160;&#160;06:35</text>
<text transform="translate(552.50 573.00) scale(0.905 1)" fill="#000" text-anchor="end">0.0</text>
<text transform="translate(448.00 589.00) scale(0.840 1)" fill="#000">06.02.&#160;&#160;16:'O-NO</text>
<text transform="translate(552.50 589.00) scale(0.905 1)" fill="#000" text-anchor="end">35.4</text>
<text transform="translate(552.50 605.00) scale(0.905 1)" fill="#000" text-anchor="end">5.7</text>
<text transform="translate(448.00 621.00) scale(0.905 1)" fill="#000">&#160;&#160;1 Bft&#160;&#160;6-SO</text>
<text transform="translate(553.00 621.00) scale(0.905 1)" fill="#000" text-anchor="end" font-weight="bold" style="letter-spacing:0.5px">4.5</text>
<text transform="translate(567.00 557.00) scale(0.905 1)" fill="#000" font-weight="bold" style="letter-spacing:0.5px">Regen</text>
<text transform="translate(671.00 557.00) scale(0.905 1)" fill="#000" text-anchor="end" font-weight="bold" style="letter-spacing:0.5px">l/m²</text>
<text transform="translate(567.00 573.00) scale(0.905 1)" fill="#000">Regentage: 22</text>
<text transform="translate(567.00 589.00) scale(0.905 1)" fill="#000">23.02.&#160;&#160;13:35</text>
<text transform="translate(670.50 589.00) scale(0.905 1)" fill="#000" text-anchor="end">8.6</text>
<text transform="translate(567.00 605.00) scale(0.905 1)" fill="#000">Gesamt:</text>
<text transform="translate(670.50 605.00) scale(0.905 1)" fill="#000" text-anchor="end">22.0</text>
<text transform="translate(567.00 621.00) scale(0.905 1)" fill="#000">&#160;22.0 l/m²</text>
<text transform="translate(671.00 621.00) scale(0.905 1)" fill="#000" text-anchor="end" font-weight="bold" style="letter-spacing:0.5px">0.2</text>
<text transform="translate(684.50 557.00) scale(0.905 1)" fill="#000" font-weight="bold" style="letter-spacing:0.5px">PMV-1:4</text>
<text transform="translate(684.50 573.00) scale(0.905 1)" fill="#000">WC 4.4 °C</text>
<text transform="translate(684.50 589.00) scale(0.905 1)" fill="#000">TP 0.4 °C</text>
</svg>
</body></html>
